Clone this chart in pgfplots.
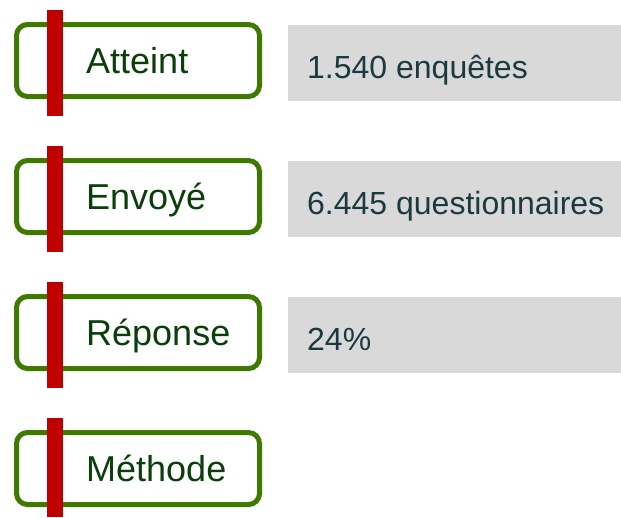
\documentclass[border=0pt]{standalone}
\usepackage{pgfplots}
\pgfplotsset{compat=1.18}
\usepackage{fontspec}
\setmainfont{Liberation Sans}
\definecolor{boxgreen}{HTML}{3F7A00}
\definecolor{labgreen}{HTML}{0A3F0A}
\definecolor{barred}{HTML}{C00000}
\definecolor{valgray}{HTML}{D9D9D9}
\definecolor{valtext}{HTML}{1B3A40}
\begin{document}
\begin{tikzpicture}[x=1pt,y=1pt]
\begin{axis}[
  scale only axis, width=621pt, height=517pt,
  xmin=0, xmax=621, ymin=0, ymax=517, y dir=reverse,
  hide axis, clip=false]
% grey value boxes (rows at offsets 0, 136, 272)
\addplot[fill=valgray, draw=none] coordinates {(288,25) (621,25) (621,101) (288,101)} -- cycle;
\addplot[fill=valgray, draw=none] coordinates {(288,161) (621,161) (621,237) (288,237)} -- cycle;
\addplot[fill=valgray, draw=none] coordinates {(288,297) (621,297) (621,373) (288,373)} -- cycle;
% green rounded boxes
\foreach \o in {0,136,272,408}{
  \edef\tmp{\noexpand\draw[boxgreen, line width=5pt, rounded corners=11pt, fill=white]
    (axis cs:16.5,{24.5+\o}) rectangle (axis cs:259.5,{96.5+\o});}
  \tmp
}
% red bars
\addplot[fill=barred, draw=none] coordinates {(47,10) (63,10) (63,116) (47,116)} -- cycle;
\addplot[fill=barred, draw=none] coordinates {(47,146) (63,146) (63,252) (47,252)} -- cycle;
\addplot[fill=barred, draw=none] coordinates {(47,282) (63,282) (63,388) (47,388)} -- cycle;
\addplot[fill=barred, draw=none] coordinates {(47,418) (63,418) (63,517) (47,517)} -- cycle;
% labels
\node[anchor=base west, inner sep=0, text=labgreen, font=\fontsize{36}{40}\selectfont] at (axis cs:86,73) {Atteint};
\node[anchor=base west, inner sep=0, text=labgreen, font=\fontsize{36}{40}\selectfont] at (axis cs:86,209) {Envoyé};
\node[anchor=base west, inner sep=0, text=labgreen, font=\fontsize{36}{40}\selectfont] at (axis cs:86,345) {Réponse};
\node[anchor=base west, inner sep=0, text=labgreen, font=\fontsize{36}{40}\selectfont] at (axis cs:86,481) {Méthode};
% values
\node[anchor=base west, inner sep=0, text=valtext, font=\fontsize{32}{36}\selectfont] at (axis cs:307,78) {1.540 enquêtes};
\node[anchor=base west, inner sep=0, text=valtext, font=\fontsize{32}{36}\selectfont] at (axis cs:307,214) {6.445 questionnaires};
\node[anchor=base west, inner sep=0, text=valtext, font=\fontsize{32}{36}\selectfont] at (axis cs:307,350) {24\%};
\end{axis}
\path (current axis.south west) rectangle (current axis.north east);
\end{tikzpicture}
\end{document}
